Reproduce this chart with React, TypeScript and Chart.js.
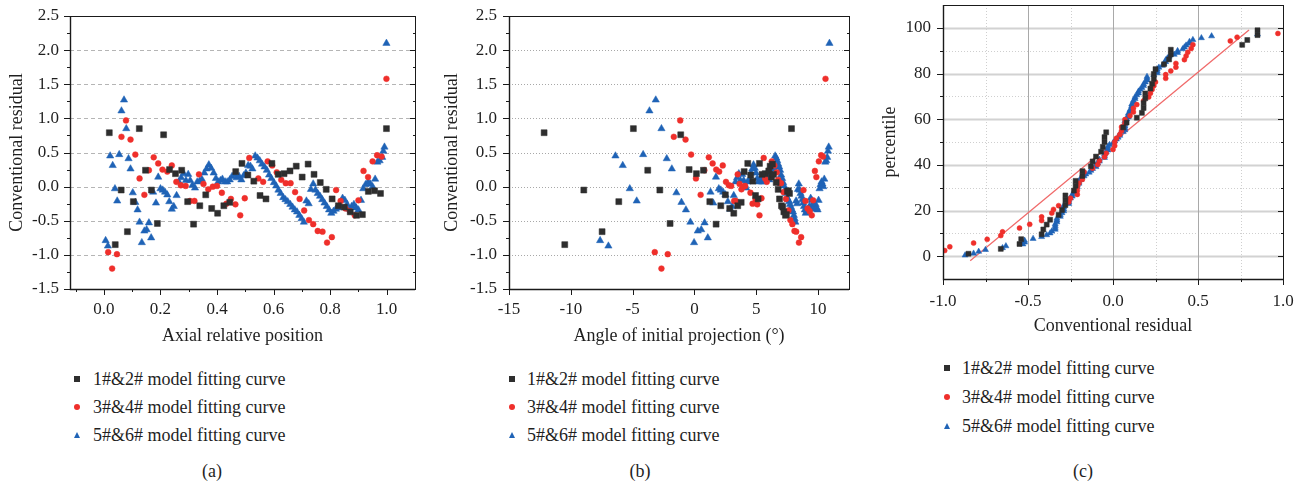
import React, { useEffect, useRef } from "react";
import { Chart, registerables } from "chart.js";
Chart.register(...registerables);

const FONT_FAMILY = "'Liberation Serif', 'Times New Roman', serif";
const TEXT = "#1f1f1f";
const BLACK = "#2e2e2e";
const RED = "#ef2f2b";
const BLUE = "#1f63b6";

// ---------- data ----------
const seriesNames = [
  "1#&2# model fitting curve",
  "3#&4# model fitting curve",
  "5#&6# model fitting curve",
];

const blackPos = [0.019, 0.040, 0.061, 0.083, 0.104, 0.125, 0.147, 0.168, 0.189, 0.211, 0.232, 0.253, 0.275, 0.296, 0.317, 0.339, 0.360, 0.381, 0.402, 0.424, 0.445, 0.466, 0.488, 0.509, 0.530, 0.552, 0.573, 0.594, 0.616, 0.637, 0.658, 0.680, 0.701, 0.722, 0.743, 0.765, 0.786, 0.807, 0.829, 0.850, 0.871, 0.893, 0.914, 0.935, 0.957, 0.978, 0.999];
const blackRes = [0.79, -0.85, -0.05, -0.66, -0.22, 0.85, 0.24, -0.05, -0.54, 0.76, 0.25, 0.19, 0.24, -0.22, -0.55, -0.28, -0.12, -0.32, -0.39, -0.28, -0.23, 0.22, 0.34, 0.17, 0.08, -0.13, -0.18, 0.34, 0.18, 0.19, 0.23, 0.30, 0.14, 0.33, 0.18, 0.06, -0.04, -0.18, -0.28, -0.30, -0.37, -0.42, -0.41, -0.07, -0.06, -0.10, 0.85];
const blackAngle = [-12.16, -10.49, -8.95, -7.47, -6.12, -4.94, -3.78, -2.80, -1.97, -1.11, -0.43, 0.16, 0.73, 1.24, 1.75, 2.13, 2.50, 2.85, 3.18, 3.50, 3.78, 4.02, 4.31, 4.55, 4.72, 4.94, 5.15, 5.26, 5.47, 5.72, 6.01, 6.12, 6.23, 6.31, 6.39, 6.61, 6.77, 6.88, 7.04, 7.14, 7.23, 7.36, 7.44, 7.52, 7.60, 7.69, 7.85];

const redPos = [0.015, 0.029, 0.046, 0.062, 0.078, 0.094, 0.111, 0.126, 0.143, 0.159, 0.176, 0.192, 0.207, 0.224, 0.240, 0.256, 0.272, 0.289, 0.304, 0.320, 0.336, 0.352, 0.369, 0.385, 0.400, 0.417, 0.433, 0.449, 0.465, 0.482, 0.498, 0.514, 0.546, 0.563, 0.579, 0.595, 0.611, 0.627, 0.643, 0.660, 0.676, 0.692, 0.708, 0.725, 0.740, 0.756, 0.773, 0.789, 0.806, 0.821, 0.837, 0.854, 0.870, 0.887, 0.900, 0.918, 0.934, 0.950, 0.966, 0.982, 0.999];
const redRes = [-0.96, -1.20, -0.99, 0.73, 0.97, 0.69, 0.47, 0.12, -0.12, 0.24, 0.43, 0.34, 0.25, 0.22, 0.31, 0.07, 0.02, 0.01, -0.21, -0.21, 0.18, 0.04, -0.04, 0.00, 0.01, -0.09, -0.25, -0.18, -0.26, -0.42, -0.17, 0.42, 0.12, 0.07, 0.37, 0.31, 0.21, 0.10, 0.05, 0.05, -0.08, -0.18, -0.35, -0.49, -0.55, -0.65, -0.66, -0.82, -0.74, -0.05, -0.21, -0.32, -0.36, -0.42, -0.20, 0.23, 0.14, 0.37, 0.46, 0.44, 1.58];
const redAngle = [-3.21, -2.67, -2.16, -1.67, -1.15, -0.72, -0.27, 0.12, 0.50, 0.80, 1.16, 1.47, 1.76, 2.00, 2.29, 2.55, 2.78, 2.97, 3.21, 3.35, 3.50, 3.65, 3.80, 3.95, 4.10, 4.53, 4.70, 4.94, 5.08, 5.26, 5.42, 5.60, 5.72, 5.85, 6.25, 6.47, 6.66, 6.77, 6.88, 7.00, 7.20, 7.40, 7.60, 7.76, 7.92, 8.09, 8.23, 8.45, 8.63, 8.82, 8.98, 9.15, 9.32, 9.49, 9.60, 9.74, 9.86, 10.06, 10.25, 10.40, 10.60];

const bluePos = [0.006, 0.014, 0.022, 0.031, 0.039, 0.047, 0.054, 0.062, 0.071, 0.079, 0.087, 0.094, 0.102, 0.111, 0.119, 0.126, 0.134, 0.143, 0.151, 0.159, 0.167, 0.174, 0.184, 0.192, 0.200, 0.208, 0.216, 0.224, 0.231, 0.240, 0.247, 0.257, 0.265, 0.273, 0.282, 0.290, 0.298, 0.305, 0.313, 0.322, 0.330, 0.338, 0.346, 0.355, 0.363, 0.371, 0.379, 0.388, 0.396, 0.404, 0.412, 0.419, 0.429, 0.436, 0.445, 0.453, 0.462, 0.469, 0.478, 0.486, 0.494, 0.502, 0.510, 0.518, 0.525, 0.535, 0.543, 0.551, 0.559, 0.568, 0.576, 0.584, 0.592, 0.601, 0.609, 0.617, 0.625, 0.634, 0.642, 0.650, 0.659, 0.667, 0.675, 0.683, 0.691, 0.699, 0.707, 0.716, 0.724, 0.732, 0.740, 0.748, 0.756, 0.764, 0.772, 0.780, 0.788, 0.796, 0.804, 0.812, 0.820, 0.828, 0.836, 0.844, 0.852, 0.860, 0.868, 0.876, 0.884, 0.892, 0.900, 0.909, 0.917, 0.925, 0.934, 0.942, 0.950, 0.959, 0.967, 0.975, 0.984, 0.988, 0.992, 0.999];
const blueRes = [-0.79, -0.87, 0.45, 0.31, -0.03, -0.21, 0.47, 1.11, 1.27, 0.85, 0.41, 0.26, -0.09, -0.23, -0.34, -0.52, -0.82, -0.65, -0.63, -0.53, -0.75, -0.08, -0.24, 0.14, -0.03, -0.05, -0.08, -0.12, -0.22, -0.33, -0.29, -0.13, 0.07, 0.13, 0.19, 0.09, 0.18, 0.09, 0.02, -0.02, 0.07, 0.08, 0.11, 0.20, 0.26, 0.32, 0.27, 0.20, 0.12, 0.07, 0.09, 0.11, 0.07, 0.07, 0.10, 0.15, 0.18, 0.13, 0.15, 0.10, 0.16, 0.20, 0.31, 0.30, 0.26, 0.45, 0.42, 0.38, 0.33, 0.29, 0.24, 0.17, 0.12, 0.06, 0.01, -0.05, -0.10, -0.16, -0.19, -0.22, -0.26, -0.30, -0.34, -0.37, -0.42, -0.47, -0.52, -0.21, -0.25, -0.04, 0.04, -0.05, -0.10, -0.14, -0.19, -0.24, -0.29, -0.34, -0.39, -0.36, -0.33, -0.31, -0.29, -0.17, -0.20, -0.26, -0.33, -0.29, -0.26, -0.31, -0.34, -0.20, -0.03, 0.03, 0.07, 0.04, 0.00, 0.11, 0.36, 0.38, 0.43, 0.52, 0.58, 2.10];
const blueAngle = [-7.63, -6.96, -6.39, -5.80, -5.23, -4.67, -4.15, -3.64, -3.13, -2.67, -2.24, -1.83, -1.46, -1.05, -0.69, -0.33, -0.03, 0.27, 0.55, 0.82, 1.08, 1.30, 1.52, 1.74, 1.97, 2.13, 2.32, 2.51, 2.70, 2.89, 3.05, 3.18, 3.32, 3.45, 3.59, 3.72, 3.86, 3.98, 4.08, 4.18, 4.28, 4.38, 4.48, 4.58, 4.68, 4.78, 4.88, 4.98, 5.08, 5.18, 5.27, 5.36, 5.45, 5.54, 5.63, 5.72, 5.81, 5.90, 5.98, 6.06, 6.14, 6.22, 6.30, 6.38, 6.45, 6.53, 6.61, 6.69, 6.77, 6.85, 6.93, 7.01, 7.09, 7.17, 7.25, 7.33, 7.41, 7.49, 7.57, 7.65, 7.73, 7.81, 7.89, 7.97, 8.04, 8.10, 8.16, 8.22, 8.30, 8.37, 8.44, 8.51, 8.58, 8.65, 8.72, 8.79, 8.86, 8.93, 9.00, 9.08, 9.16, 9.24, 9.32, 9.40, 9.48, 9.56, 9.64, 9.72, 9.80, 9.88, 9.96, 10.04, 10.12, 10.20, 10.28, 10.35, 10.42, 10.50, 10.58, 10.66, 10.74, 10.80, 10.86, 10.92];

// reference line of the percentile plot (two end points)
const refLineX = [-0.84, 0.8];
const refLineY = [-2, 99];

// axis ticks
const residualTicks = [-1.5, -1.0, -0.5, 0, 0.5, 1.0, 1.5, 2.0, 2.5];
const residualMinor = [-1.25, -0.75, -0.25, 0.25, 0.75, 1.25, 1.75, 2.25];
const residualGrid = [-1.0, -0.5, 0, 0.5, 1.0, 1.5, 2.0];
const positionTicks = [0, 0.2, 0.4, 0.6, 0.8, 1.0];
const positionMinor = [-0.1, 0.1, 0.3, 0.5, 0.7, 0.9];
const angleTicks = [-15, -10, -5, 0, 5, 10];
const qqResidualTicks = [-1.0, -0.5, 0, 0.5, 1.0];
const qqResidualMinor = [-0.75, -0.25, 0.25, 0.75];
const percentileTicks = [0, 20, 40, 60, 80, 100];
const percentileMinor = [10, 30, 50, 70, 90];

// ---------- helpers ----------
const pts = (xs: number[], ys: number[]) => xs.map((x, i) => ({ x, y: ys[i] }));
const percentilePts = (res: number[]) => {
  const s = [...res].sort((a, b) => a - b);
  return s.map((v, i) => ({ x: v, y: ((i + 0.5) / s.length) * 100 }));
};

type FrameCfg = {
  xMajor: number[]; xMinor: number[]; yMajor: number[]; yMinor: number[];
  hGrid: number[]; hColor: string; hWidth: number; hDash: number[];
  vGrid: number[]; vColor: string; vWidth: number; vDash: number[];
  hMinorGrid: number[]; vMinorGrid: number[]; minorColor: string; minorDash: number[];
};

function framePlugin(cfg: FrameCfg) {
  return {
    id: "frame",
    beforeDatasetsDraw(chart: any) {
      const { ctx, chartArea: a } = chart;
      const xs = chart.scales.x;
      const ys = chart.scales.y;
      ctx.save();
      const h = (v: number, color: string, w: number, dash: number[]) => {
        const p = Math.round(ys.getPixelForValue(v)) + 0.5;
        ctx.beginPath();
        ctx.strokeStyle = color; ctx.lineWidth = w; ctx.setLineDash(dash);
        ctx.moveTo(a.left, p); ctx.lineTo(a.right, p); ctx.stroke();
      };
      const vv = (v: number, color: string, w: number, dash: number[]) => {
        const p = Math.round(xs.getPixelForValue(v)) + 0.5;
        ctx.beginPath();
        ctx.strokeStyle = color; ctx.lineWidth = w; ctx.setLineDash(dash);
        ctx.moveTo(p, a.top); ctx.lineTo(p, a.bottom); ctx.stroke();
      };
      cfg.hMinorGrid.forEach((v) => h(v, cfg.minorColor, 1, cfg.minorDash));
      cfg.vMinorGrid.forEach((v) => vv(v, cfg.minorColor, 1, cfg.minorDash));
      cfg.hGrid.forEach((v) => h(v, cfg.hColor, cfg.hWidth, cfg.hDash));
      cfg.vGrid.forEach((v) => vv(v, cfg.vColor, cfg.vWidth, cfg.vDash));
      ctx.restore();
    },
    afterDatasetsDraw(chart: any) {
      const { ctx, chartArea: a } = chart;
      const xs = chart.scales.x;
      const ys = chart.scales.y;
      ctx.save();
      ctx.setLineDash([]);
      ctx.strokeStyle = "#1a1a1a";
      ctx.lineWidth = 1;
      ctx.strokeRect(Math.round(a.left) + 0.5, Math.round(a.top) + 0.5, Math.round(a.right - a.left), Math.round(a.bottom - a.top));
      ctx.lineWidth = 1.4;
      ctx.beginPath();
      ctx.moveTo(Math.round(a.left) + 0.5, a.top);
      ctx.lineTo(Math.round(a.left) + 0.5, a.bottom + 0.5);
      ctx.lineTo(a.right, Math.round(a.bottom) + 0.5);
      ctx.stroke();
      ctx.lineWidth = 1;
      const yt = (v: number, len: number) => {
        const p = Math.round(ys.getPixelForValue(v)) + 0.5;
        ctx.beginPath();
        ctx.moveTo(a.left - len, p); ctx.lineTo(a.left, p);
        ctx.moveTo(a.right, p); ctx.lineTo(a.right - len + 1, p);
        ctx.stroke();
      };
      const xt = (v: number, len: number) => {
        const p = Math.round(xs.getPixelForValue(v)) + 0.5;
        ctx.beginPath();
        ctx.moveTo(p, a.bottom); ctx.lineTo(p, a.bottom + len);
        ctx.stroke();
      };
      cfg.yMajor.forEach((v) => yt(v, 6));
      cfg.yMinor.forEach((v) => yt(v, 3));
      cfg.xMajor.forEach((v) => xt(v, 6));
      cfg.xMinor.forEach((v) => xt(v, 3));
      ctx.restore();
    },
  };
}

const font = (size: number) => ({ family: FONT_FAMILY, size });

function axis(opts: {
  min: number; max: number; ticks: number[]; fmt: (v: number) => string;
  size: number; pad: number; title: string; titlePad: any; horizontal: boolean;
}) {
  return {
    type: "linear",
    min: opts.min,
    max: opts.max,
    afterBuildTicks: (s: any) => { s.ticks = opts.ticks.map((v) => ({ value: v })); },
    afterFit: (s: any) => {
      if (opts.horizontal) s.height = opts.size; else s.width = opts.size;
      s.paddingTop = 0; s.paddingBottom = 0; s.paddingLeft = 0; s.paddingRight = 0;
    },
    grid: { display: false, drawTicks: false },
    border: { display: false },
    ticks: { font: font(17), color: TEXT, padding: opts.pad, autoSkip: false, maxRotation: 0, callback: (v: any) => opts.fmt(Number(v)) },
    title: { display: true, text: opts.title, font: font(18), color: TEXT, padding: opts.titlePad },
  };
}

function scatterSet(label: string, data: any[], color: string, style: string, r: number) {
  return {
    type: "scatter",
    label,
    data,
    pointStyle: style,
    pointRadius: r,
    pointBackgroundColor: color,
    pointBorderColor: color,
    pointBorderWidth: 0.5,
    showLine: false,
  };
}

const f1 = (v: number) => v.toFixed(1);
const f0 = (v: number) => String(Math.round(v));

function baseOptions(padding: any, x: any, y: any) {
  return {
    responsive: false,
    animation: false,
    devicePixelRatio: 1,
    layout: { padding },
    plugins: { legend: { display: false }, tooltip: { enabled: false } },
    scales: { x, y },
  };
}

function configA() {
  return {
    type: "scatter",
    data: {
      datasets: [
        scatterSet(seriesNames[0], pts(blackPos, blackRes), BLACK, "rect", 4.2),
        scatterSet(seriesNames[1], pts(redPos, redRes), RED, "circle", 2.9),
        scatterSet(seriesNames[2], pts(bluePos, blueRes), BLUE, "triangle", 4.2),
      ],
    },
    options: baseOptions(
      { left: 0, top: 16, right: 15, bottom: 0 },
      axis({ min: -0.12, max: 1.1, ticks: positionTicks, fmt: f1, size: 61, pad: 10, title: "Axial relative position", titlePad: { top: 0, bottom: 3 }, horizontal: true }),
      axis({ min: -1.5, max: 2.5, ticks: residualTicks, fmt: f1, size: 70, pad: 11, title: "Conventional residual", titlePad: { top: 6, bottom: 0 }, horizontal: false })
    ),
    plugins: [framePlugin({
      xMajor: positionTicks, xMinor: positionMinor, yMajor: residualTicks, yMinor: residualMinor,
      hGrid: residualGrid, hColor: "#b5b5b5", hWidth: 1, hDash: [4, 3],
      vGrid: [], vColor: "#000", vWidth: 1, vDash: [],
      hMinorGrid: [], vMinorGrid: [], minorColor: "#ccc", minorDash: [1, 2],
    })],
  };
}

function configB() {
  return {
    type: "scatter",
    data: {
      datasets: [
        scatterSet(seriesNames[0], pts(blackAngle, blackRes), BLACK, "rect", 4.2),
        scatterSet(seriesNames[1], pts(redAngle, redRes), RED, "circle", 2.9),
        scatterSet(seriesNames[2], pts(blueAngle, blueRes), BLUE, "triangle", 4.2),
      ],
    },
    options: baseOptions(
      { left: 0, top: 16, right: 21, bottom: 0 },
      axis({ min: -15, max: 12.5, ticks: angleTicks, fmt: f0, size: 61, pad: 10, title: "Angle of initial projection (°)", titlePad: { top: 0, bottom: 3 }, horizontal: true }),
      axis({ min: -1.5, max: 2.5, ticks: residualTicks, fmt: f1, size: 79, pad: 12, title: "Conventional residual", titlePad: { top: 11, bottom: 0 }, horizontal: false })
    ),
    plugins: [framePlugin({
      xMajor: angleTicks, xMinor: [], yMajor: residualTicks, yMinor: residualMinor,
      hGrid: residualGrid, hColor: "#a8a8a8", hWidth: 1, hDash: [1, 2],
      vGrid: [], vColor: "#000", vWidth: 1, vDash: [],
      hMinorGrid: [], vMinorGrid: [], minorColor: "#ccc", minorDash: [1, 2],
    })],
  };
}

function configC() {
  return {
    type: "scatter",
    data: {
      datasets: [
        scatterSet(seriesNames[0], percentilePts(blackRes), BLACK, "rect", 3.5),
        scatterSet(seriesNames[1], percentilePts(redRes), RED, "circle", 2.5),
        scatterSet(seriesNames[2], percentilePts(blueRes), BLUE, "triangle", 3.5),
        {
          type: "line",
          label: "reference",
          data: pts(refLineX, refLineY),
          borderColor: "#f06a6a",
          borderWidth: 1.3,
          pointRadius: 0,
          fill: false,
        },
      ],
    },
    options: baseOptions(
      { left: 0, top: 5, right: 21, bottom: 0 },
      axis({ min: -1, max: 1, ticks: qqResidualTicks, fmt: f1, size: 71, pad: 12, title: "Conventional residual", titlePad: { top: 0, bottom: 13 }, horizontal: true }),
      axis({ min: -10, max: 110, ticks: percentileTicks, fmt: f0, size: 73, pad: 12, title: "percentile", titlePad: { top: 9, bottom: 0 }, horizontal: false })
    ),
    plugins: [framePlugin({
      xMajor: qqResidualTicks, xMinor: qqResidualMinor, yMajor: percentileTicks, yMinor: percentileMinor,
      hGrid: percentileTicks, hColor: "#d2d2d2", hWidth: 2, hDash: [],
      vGrid: [-0.5, 0, 0.5], vColor: "#a9a9a9", vWidth: 1, vDash: [],
      hMinorGrid: percentileMinor, vMinorGrid: qqResidualMinor, minorColor: "#cfcfcf", minorDash: [1, 2],
    })],
  };
}

function ChartCanvas({ left, top, width, height, make }: { left: number; top: number; width: number; height: number; make: () => any }) {
  const ref = useRef<HTMLCanvasElement | null>(null);
  useEffect(() => {
    if (!ref.current) return;
    const chart = new Chart(ref.current, make());
    return () => chart.destroy();
  }, []);
  return <canvas ref={ref} width={width} height={height} style={{ position: "absolute", left, top, width, height }} />;
}

function Marker({ kind }: { kind: number }) {
  if (kind === 0) return <div style={{ width: 6, height: 6, background: BLACK }} />;
  if (kind === 1) return <div style={{ width: 6, height: 6, borderRadius: "50%", background: RED }} />;
  return <div style={{ width: 0, height: 0, borderLeft: "3.5px solid transparent", borderRight: "3.5px solid transparent", borderBottom: "6px solid " + BLUE }} />;
}

function Legend({ markerX, textX, rows }: { markerX: number; textX: number; rows: number[] }) {
  return (
    <>
      {seriesNames.map((name, i) => (
        <React.Fragment key={name}>
          <div style={{ position: "absolute", left: markerX - 3.5, top: rows[i] - 3 }}>
            <Marker kind={i} />
          </div>
          <div style={{ position: "absolute", left: textX, top: rows[i] - 11, lineHeight: "22px", fontSize: 18, whiteSpace: "nowrap" }}>{name}</div>
        </React.Fragment>
      ))}
    </>
  );
}

function Caption({ x, y, text }: { x: number; y: number; text: string }) {
  return (
    <div style={{ position: "absolute", left: x - 30, width: 60, top: y - 11, lineHeight: "22px", fontSize: 18, textAlign: "center" }}>{text}</div>
  );
}

export default function App() {
  return (
    <div style={{ position: "absolute", left: 0, top: 0, width: 1304, height: 487, background: "#fff", fontFamily: FONT_FAMILY, color: TEXT, overflow: "hidden" }}>
      <ChartCanvas left={0} top={0} width={430} height={350} make={configA} />
      <ChartCanvas left={430} top={0} width={440} height={350} make={configB} />
      <ChartCanvas left={870} top={0} width={434} height={350} make={configC} />
      <Legend markerX={77} textX={93} rows={[379, 407, 435]} />
      <Legend markerX={512} textX={527} rows={[379, 407, 435]} />
      <Legend markerX={947} textX={962} rows={[368, 397, 426]} />
      <Caption x={212} y={471} text="(a)" />
      <Caption x={640} y={471} text="(b)" />
      <Caption x={1083} y={471} text="(c)" />
    </div>
  );
}
